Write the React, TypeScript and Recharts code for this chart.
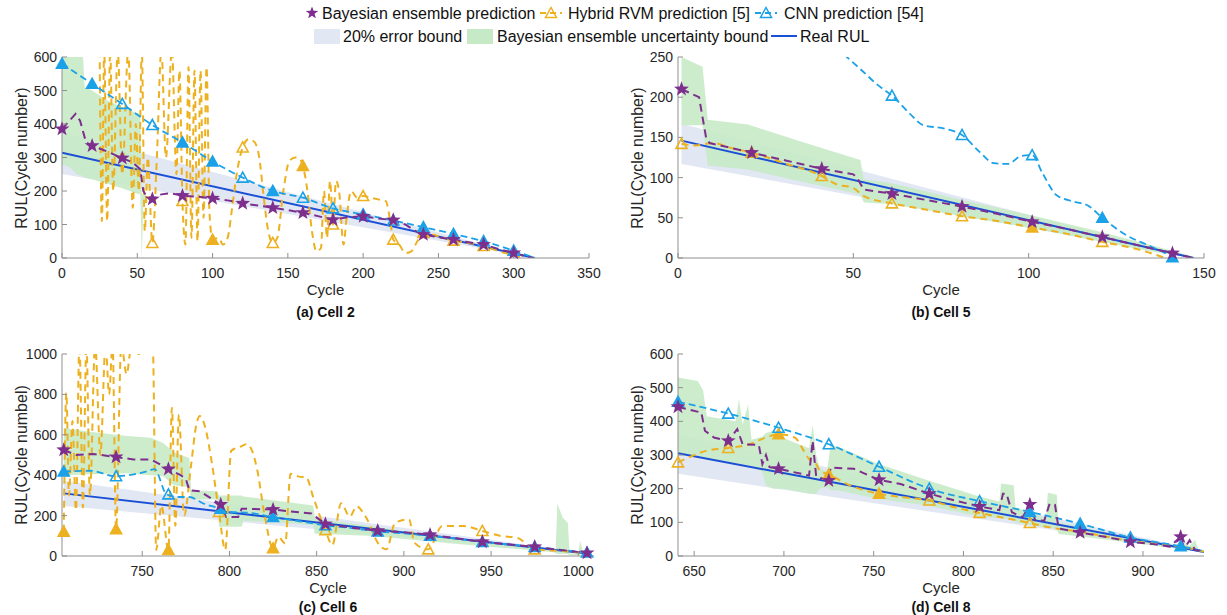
import React from 'react';
import { ComposedChart, Line, Area, XAxis, YAxis } from 'recharts';

type Pt = [number, number];
type Band = [number, number, number];
type Mk = [number, number, number];

const PURPLE = '#7e2f8e';
const YELLOW = '#edb120';
const CYAN = '#1ba1e8';
const BLUE = '#1a4fd6';
const ERR = '#e1e7f3';
const UNC = '#c6eac6';
const AXIS = '#8f8f8f';
const TXT = '#262626';
const FONT = 'Arial, "Liberation Sans", Helvetica, sans-serif';

// (a) Cell 2
const aReal: Pt[] = [[0, 314], [314, 0]];
const aErr: Band[] = [[0, 251, 377], [314, 0, 0]];
const aUnc: Band[] = [[0, 280, 600], [5, 272, 600], [10, 250, 600], [14, 245, 600], [15, 240, 510], [20, 235, 500], [30, 222, 470], [40, 208, 450], [50, 192, 432], [52, 190, 430], [53, 0, 190], [54, 160, 190], [56, 168, 185]];
const aBay: Pt[] = [[0, 385], [4, 405], [9, 430], [12, 410], [16, 345], [20, 335], [30, 318], [40, 298], [47, 285], [52, 265], [54, 200], [57, 178], [60, 176], [66, 190], [72, 193], [80, 186], [90, 183], [100, 178], [110, 172], [120, 163], [130, 157], [140, 150], [150, 143], [160, 135], [170, 125], [180, 114], [190, 122], [200, 124], [210, 118], [220, 113], [228, 100], [235, 80], [240, 70], [250, 62], [260, 55], [270, 47], [280, 40], [290, 27], [300, 15], [312, 0]];
const aBayMk: Pt[] = [[0, 385], [20, 335], [40, 298], [60, 176], [80, 186], [100, 178], [120, 163], [140, 150], [160, 135], [180, 114], [200, 124], [220, 113], [240, 70], [260, 55], [280, 40], [300, 15]];
const aHyb: Pt[] = [[25, 620], [26.5, 110], [28, 620], [30, 110], [32, 620], [34, 200], [37, 620], [40, 250], [44, 620], [47, 150], [49, 400], [51, 200], [53, 620], [55, 80], [57, 300], [60, 45], [63, 300], [66, 620], [69, 300], [73, 620], [76, 250], [78, 560], [80, 170], [82, 40], [84, 570], [86, 60], [88, 560], [90, 50], [92, 560], [94, 120], [96, 570], [98, 130], [100, 55], [104, 60], [107, 40], [110, 60], [113, 150], [116, 250], [120, 330], [124, 355], [128, 345], [131, 300], [134, 180], [137, 80], [140, 45], [143, 60], [147, 200], [151, 290], [155, 300], [158, 295], [160, 275], [163, 200], [166, 80], [169, 20], [172, 30], [174, 200], [176, 60], [178, 230], [180, 100], [182, 230], [184, 200], [187, 40], [189, 120], [192, 200], [196, 180], [200, 185], [205, 180], [210, 175], [215, 170], [218, 110], [220, 55], [224, 40], [228, 15], [232, 20], [236, 50], [240, 75], [250, 65], [260, 52], [270, 45], [280, 36], [290, 20], [300, 8], [306, 0]];
const aHybMk: Mk[] = [[60, 45, 0], [80, 170, 0], [100, 55, 1], [120, 330, 0], [140, 45, 0], [160, 275, 1], [180, 100, 0], [200, 185, 0], [220, 55, 0], [240, 75, 1], [260, 52, 0], [280, 36, 0]];
const aCnn: Pt[] = [[0, 580], [20, 520], [40, 460], [60, 397], [80, 345], [100, 288], [120, 240], [140, 200], [160, 180], [180, 148], [200, 130], [220, 112], [240, 92], [260, 72], [280, 50], [300, 22], [314, 0]];
const aCnnMk: Mk[] = [[0, 580, 1], [20, 520, 1], [40, 460, 0], [60, 397, 0], [80, 345, 1], [100, 288, 1], [120, 240, 0], [140, 200, 1], [160, 180, 0], [180, 148, 0], [200, 130, 1], [220, 112, 0], [240, 92, 1], [260, 72, 1], [280, 50, 1], [300, 22, 1]];

// (b) Cell 5
const bReal: Pt[] = [[1, 146], [147, 0]];
const bErr: Band[] = [[1, 117, 167], [147, 0, 0]];
const bUnc: Band[] = [[1, 165, 250], [7, 165, 238], [8.5, 115, 172], [20, 110, 166], [35, 95, 145], [52, 79, 122], [53, 69, 98], [61, 67, 93], [81, 52, 72], [101, 37, 53], [121, 20, 32], [135, 8, 16], [147, 0, 2]];
const bBay: Pt[] = [[1, 210], [6, 200], [8, 150], [9, 143], [21, 131], [31, 121], [41, 111], [50, 104], [51, 100], [53, 85], [61, 80], [71, 72], [81, 64], [91, 55], [101, 45], [111, 36], [121, 26], [131, 16], [141, 6], [147, 0]];
const bBayMk: Pt[] = [[1, 210], [21, 131], [41, 111], [61, 80], [81, 64], [101, 45], [121, 26], [141, 6]];
const bHyb: Pt[] = [[1, 142], [5, 140], [10, 143], [15, 137], [21, 131], [31, 117], [41, 102], [45, 92], [50, 87], [53, 77], [61, 68], [71, 60], [81, 52], [91, 46], [101, 38], [111, 30], [121, 20], [131, 11], [139, 0]];
const bHybMk: Mk[] = [[1, 142, 0], [21, 131, 0], [41, 102, 0], [61, 68, 0], [81, 52, 0], [101, 38, 1], [121, 20, 0]];
const bCnn: Pt[] = [[45, 262], [52, 235], [57, 215], [61, 202], [66, 180], [70, 165], [76, 161], [81, 153], [86, 132], [90, 118], [94, 117], [98, 127], [101, 128], [104, 105], [108, 78], [113, 70], [117, 65], [121, 50], [128, 28], [134, 16], [138, 8], [141, 1]];
const bCnnMk: Mk[] = [[61, 202, 0], [81, 153, 0], [101, 128, 0], [121, 50, 1], [141, 1, 1]];

// (c) Cell 6
const cReal: Pt[] = [[705, 310], [1005, 12]];
const cErr: Band[] = [[705, 248, 372], [1005, 10, 14]];
const cUnc: Band[] = [[705, 400, 635], [720, 405, 615], [740, 410, 595], [755, 400, 585], [762, 395, 560], [768, 350, 515], [777, 340, 485], [778, 280, 325], [793, 280, 320], [794, 145, 300], [807, 145, 300], [808, 175, 295], [848, 155, 250], [849, 110, 185], [880, 100, 150], [920, 68, 95], [950, 45, 70], [985, 20, 35], [987, 15, 30], [988, 10, 260], [991, 10, 190], [994, 10, 165], [995, 5, 12], [1000, 5, 12], [1001, 5, 75], [1003, 5, 12], [1006, 5, 10]];
const cBay: Pt[] = [[705, 525], [712, 500], [722, 505], [735, 490], [745, 478], [755, 478], [765, 430], [772, 400], [775, 382], [777, 325], [783, 320], [795, 255], [798, 193], [805, 193], [807, 234], [825, 230], [847, 210], [855, 158], [870, 140], [885, 125], [900, 117], [915, 105], [930, 88], [945, 70], [960, 58], [975, 45], [990, 30], [1005, 15]];
const cBayMk: Pt[] = [[705, 525], [735, 490], [765, 430], [795, 255], [825, 230], [855, 158], [885, 125], [915, 105], [945, 70], [975, 45], [1005, 15]];
const cHyb: Pt[] = [[705, 120], [706.5, 808], [708, 300], [710, 668], [712, 226], [714, 1050], [716, 240], [718, 1050], [720, 300], [723, 1050], [726, 500], [729, 1050], [731, 800], [733, 1050], [735, 133], [738, 1050], [741, 900], [744, 1050], [748, 1000], [752, 1050], [756, 1050], [758, 30], [761, 250], [765, 30], [767, 734], [769, 150], [771, 700], [774, 200], [778, 450], [781, 650], [783, 693], [786, 640], [790, 456], [794, 218], [797.6, 30], [801, 521], [806, 540], [810, 554], [813, 520], [816, 423], [820, 210], [825, 38], [828, 95], [832, 62], [835, 407], [840, 393], [844, 390], [848, 292], [855, 128], [859, 54], [864, 261], [869, 195], [873, 246], [876, 222], [879, 181], [885, 66], [890, 33], [895, 165], [903, 181], [906, 66], [914, 33], [922, 148], [934, 148], [945, 124], [955, 100], [965, 90], [975, 33], [990, 25], [1005, 15]];
const cHybMk: Mk[] = [[705, 120, 1], [735, 133, 1], [765, 30, 1], [794, 218, 0], [825, 38, 1], [855, 128, 0], [914, 33, 0], [945, 124, 0], [975, 33, 0]];
const cCnn: Pt[] = [[705, 418], [720, 422], [735, 395], [753, 420], [757, 430], [764, 305], [770, 292], [777, 292], [785, 260], [795, 234], [800, 218], [810, 215], [825, 193], [840, 172], [855, 152], [870, 138], [885, 122], [900, 112], [915, 100], [930, 86], [945, 70], [960, 57], [975, 45], [990, 30], [1005, 17]];
const cCnnMk: Mk[] = [[705, 418, 1], [735, 395, 0], [765, 305, 0], [795, 234, 1], [825, 193, 1], [855, 152, 0], [885, 122, 1], [915, 100, 1], [945, 70, 1], [975, 45, 1], [1005, 17, 1]];

// (d) Cell 8
const dReal: Pt[] = [[641, 305], [934, 12]];
const dErr: Band[] = [[641, 244, 362], [934, 10, 14]];
const dUnc: Band[] = [[641, 300, 530], [652, 295, 520], [655, 290, 492], [657, 285, 415], [673, 275, 400], [675, 275, 465], [677, 270, 390], [680, 270, 450], [682, 265, 345], [688, 250, 355], [690, 210, 365], [694, 200, 372], [700, 200, 350], [714, 185, 320], [716, 185, 390], [718, 185, 300], [720, 200, 260], [724, 205, 250], [726, 195, 330], [730, 195, 325], [752, 170, 275], [780, 150, 225], [808, 118, 178], [820, 112, 162], [821, 112, 215], [828, 108, 210], [829, 100, 145], [846, 85, 112], [847, 85, 188], [852, 82, 182], [853, 65, 100], [880, 48, 70], [900, 35, 50], [918, 22, 32], [922, 20, 42], [926, 20, 30], [929, 18, 48], [931, 15, 20], [934, 12, 16]];
const dBay: Pt[] = [[641, 443], [654, 426], [656, 372], [661, 352], [669, 342], [674, 377], [677, 332], [686, 330], [688, 273], [690, 300], [692, 264], [697, 259], [714, 239], [716, 342], [718, 235], [725, 224], [726, 263], [739, 259], [753, 226], [765, 214], [781, 185], [795, 165], [809, 147], [820, 136], [822, 185], [824, 185], [827, 130], [833, 115], [837, 153], [840, 106], [845, 105], [848, 155], [851, 152], [853, 82], [865, 70], [880, 56], [893, 42], [905, 36], [915, 28], [921, 57], [923, 22], [926, 47], [929, 18], [934, 13]];
const dBayMk: Pt[] = [[641, 443], [669, 342], [697, 259], [725, 224], [753, 226], [781, 185], [809, 147], [837, 153], [865, 70], [893, 42], [921, 57]];
const dHyb: Pt[] = [[641, 278], [648, 295], [657, 313], [669, 321], [681, 332], [690, 352], [697, 362], [706, 352], [711, 313], [714, 288], [718, 273], [720, 254], [725, 242], [739, 205], [753, 185], [765, 175], [781, 165], [795, 145], [809, 128], [820, 116], [837, 98], [847, 86], [865, 72], [893, 45], [921, 28], [934, 13]];
const dHybMk: Mk[] = [[641, 278, 0], [669, 321, 0], [697, 362, 1], [725, 242, 1], [753, 185, 1], [781, 165, 0], [809, 128, 0], [837, 98, 0]];
const dCnn: Pt[] = [[641, 458], [669, 423], [697, 381], [725, 332], [753, 265], [781, 200], [809, 163], [837, 131], [865, 96], [893, 55], [921, 29], [934, 14]];
const dCnnMk: Mk[] = [[641, 458, 1], [669, 423, 0], [697, 381, 0], [725, 332, 0], [753, 265, 0], [781, 200, 0], [809, 163, 0], [837, 131, 1], [865, 96, 1], [893, 55, 1], [921, 29, 1]];

const aXTicks = [0, 50, 100, 150, 200, 250, 300, 350];
const aYTicks = [0, 100, 200, 300, 400, 500, 600];
const bXTicks = [0, 50, 100, 150];
const bYTicks = [0, 50, 100, 150, 200, 250];
const cXTicks = [750, 800, 850, 900, 950, 1000];
const cYTicks = [0, 200, 400, 600, 800, 1000];
const dXTicks = [650, 700, 750, 800, 850, 900];
const dYTicks = [0, 100, 200, 300, 400, 500, 600];

interface Series {
  real: Pt[]; err: Band[]; unc: Band[];
  bay: Pt[]; bayMk: Pt[]; hyb: Pt[]; hybMk: Mk[]; cnn: Pt[]; cnnMk: Mk[];
}

function buildRows(s: Series) {
  const map = new Map<number, any>();
  const get = (x: number) => {
    let r = map.get(x);
    if (!r) { r = { x }; map.set(x, r); }
    return r;
  };
  s.real.forEach(([x, y]) => (get(x).real = y));
  s.err.forEach(([x, lo, hi]) => (get(x).err = [lo, hi]));
  s.unc.forEach(([x, lo, hi]) => (get(x).unc = [lo, hi]));
  s.bay.forEach(([x, y]) => (get(x).bay = y));
  s.hyb.forEach(([x, y]) => (get(x).hyb = y));
  s.cnn.forEach(([x, y]) => (get(x).cnn = y));
  s.bayMk.forEach(([x, y]) => (get(x).bayM = y));
  s.hybMk.forEach(([x, y, f]) => { const r = get(x); r.hybM = y; r.hybF = f; });
  s.cnnMk.forEach(([x, y, f]) => { const r = get(x); r.cnnM = y; r.cnnF = f; });
  return [...map.values()].sort((p, q) => p.x - q.x);
}

function starPath(cx: number, cy: number, R = 7.8, r = 3.2) {
  let d = '';
  for (let i = 0; i < 10; i++) {
    const ang = -Math.PI / 2 + (i * Math.PI) / 5;
    const rad = i % 2 === 0 ? R : r;
    d += (i === 0 ? 'M' : 'L') + (cx + rad * Math.cos(ang)).toFixed(2) + ',' + (cy + rad * Math.sin(ang)).toFixed(2);
  }
  return d + 'Z';
}

const triPath = (cx: number, cy: number) => `M${cx},${cy - 5.5}L${cx + 5.5},${cy + 4.5}L${cx - 5.5},${cy + 4.5}Z`;

const starDot = (p: any) => {
  if (p.cy == null || p.cx == null) return <g key={'s' + p.index} />;
  return <path key={'s' + p.index} d={starPath(p.cx, p.cy)} fill={PURPLE} />;
};

const triDot = (color: string, flag: string) => (p: any) => {
  if (p.cy == null || p.cx == null) return <g key={'t' + p.index} />;
  const filled = p.payload && p.payload[flag] === 1;
  return (
    <path key={'t' + p.index} d={triPath(p.cx, p.cy)} fill={filled ? color : 'none'} stroke={color} strokeWidth={1.6} />
  );
};

const XTick = (p: any) => (
  <g>
    <line x1={p.x} x2={p.x} y1={p.y} y2={p.y - 5} stroke={AXIS} />
    <text x={p.x} y={p.y + 20} textAnchor="middle" fontSize={14} fill={TXT} fontFamily={FONT}>
      {p.payload.value}
    </text>
  </g>
);

const YTick = (p: any) => (
  <g>
    <line x1={p.x} x2={p.x + 5} y1={p.y} y2={p.y} stroke={AXIS} />
    <text x={p.x - 5} y={p.y + 5} textAnchor="end" fontSize={14} fill={TXT} fontFamily={FONT}>
      {p.payload.value}
    </text>
  </g>
);

interface PanelProps {
  series: Series;
  plot: [number, number, number, number];
  xDomain: [number, number];
  xTicks: number[];
  yDomain: [number, number];
  yTicks: number[];
  yLabel: string;
  title: string;
  labelX: number;
  titleGap: number;
}

function Panel({ series, plot, xDomain, xTicks, yDomain, yTicks, yLabel, title, labelX, titleGap }: PanelProps) {
  const rows = buildRows(series);
  const [x0, x1, y0, y1] = plot;
  const W = x1 - x0 + 75;
  const H = y1 - y0 + 40;
  const mid = (x0 + x1) / 2;
  const margin = { top: 10, right: 25, left: 0, bottom: 0 };
  const box: React.CSSProperties = { position: 'absolute', left: x0 - 50, top: y0 - 10 };
  return (
    <>
      <div style={box}>
        <ComposedChart width={W} height={H} data={rows} margin={margin}>
          <XAxis dataKey="x" type="number" domain={xDomain} ticks={xTicks} interval={0} allowDataOverflow height={30}
            stroke={AXIS} tickLine={false} tickSize={0} tickMargin={0} tick={<XTick />} />
          <YAxis type="number" domain={yDomain} ticks={yTicks} interval={0} allowDataOverflow width={50}
            stroke={AXIS} tickLine={false} tickSize={0} tickMargin={0} tick={<YTick />} />
          <Area type="linear" dataKey="err" stroke="none" fill={ERR} fillOpacity={1} connectNulls isAnimationActive={false} />
          <Area type="linear" dataKey="unc" stroke="none" fill={UNC} fillOpacity={0.9} connectNulls isAnimationActive={false} />
          <Line type="linear" dataKey="real" stroke={BLUE} strokeWidth={2} dot={false} connectNulls isAnimationActive={false} />
          <Line type="monotone" dataKey="hyb" stroke={YELLOW} strokeWidth={2} strokeDasharray="7 5" dot={false} connectNulls isAnimationActive={false} />
          <Line type="monotone" dataKey="cnn" stroke={CYAN} strokeWidth={1.8} strokeDasharray="7 4" dot={false} connectNulls isAnimationActive={false} />
          <Line type="linear" dataKey="bay" stroke={PURPLE} strokeWidth={2} strokeDasharray="8 5" dot={false} connectNulls isAnimationActive={false} />
        </ComposedChart>
      </div>
      <div style={box}>
        <ComposedChart width={W} height={H} data={rows} margin={margin}>
          <XAxis dataKey="x" type="number" domain={xDomain} height={30} tick={false} axisLine={false} tickLine={false} />
          <YAxis type="number" domain={yDomain} width={50} tick={false} axisLine={false} tickLine={false} />
          <Line dataKey="hybM" stroke="none" dot={triDot(YELLOW, 'hybF')} isAnimationActive={false} />
          <Line dataKey="cnnM" stroke="none" dot={triDot(CYAN, 'cnnF')} isAnimationActive={false} />
          <Line dataKey="bayM" stroke="none" dot={starDot} isAnimationActive={false} />
        </ComposedChart>
      </div>
      <div style={{ position: 'absolute', left: mid - 100, width: 200, top: y1 + 24, textAlign: 'center', fontSize: 15, lineHeight: '16px', color: TXT }}>
        Cycle
      </div>
      <div style={{ position: 'absolute', left: mid - 100, width: 200, top: y1 + titleGap, textAlign: 'center', fontSize: 14, fontWeight: 'bold', lineHeight: '16px', color: '#111' }}>
        {title}
      </div>
      <div style={{ position: 'absolute', left: labelX - 100, top: (y0 + y1) / 2 - 9, width: 200, textAlign: 'center', fontSize: 16, lineHeight: '18px', color: TXT, transform: 'rotate(-90deg)' }}>
        {yLabel}
      </div>
    </>
  );
}

function Legend() {
  const t = { fontSize: 16, fill: '#111', fontFamily: FONT };
  return (
    <svg width={1227} height={50} style={{ position: 'absolute', left: 0, top: 0 }}>
      <path d={starPath(312, 13, 6.5, 2.7)} fill={PURPLE} />
      <text x={322} y={19} {...t}>Bayesian ensemble prediction</text>
      <line x1={540} x2={562} y1={13} y2={13} stroke={YELLOW} strokeWidth={2} strokeDasharray="6 4" />
      <path d={triPath(551, 13)} fill="none" stroke={YELLOW} strokeWidth={1.5} />
      <text x={568} y={19} {...t}>Hybrid RVM prediction [5]</text>
      <line x1={755} x2={777} y1={13} y2={13} stroke={CYAN} strokeWidth={2} strokeDasharray="6 4" />
      <path d={triPath(766, 13)} fill="none" stroke={CYAN} strokeWidth={1.5} />
      <text x={784} y={19} {...t}>CNN prediction [54]</text>
      <rect x={314} y={29} width={26} height={15} fill={ERR} />
      <text x={343} y={42} {...t}>20% error bound</text>
      <rect x={467} y={29} width={26} height={15} fill={UNC} />
      <text x={497} y={42} {...t}>Bayesian ensemble uncertainty bound</text>
      <line x1={771} x2={797} y1={36} y2={36} stroke={BLUE} strokeWidth={2} />
      <text x={800} y={42} {...t}>Real RUL</text>
    </svg>
  );
}

export default function App() {
  return (
    <div style={{ position: 'absolute', left: 0, top: 0, width: 1227, height: 615, background: '#fff', fontFamily: FONT, overflow: 'hidden' }}>
      <Legend />
      <Panel
        series={{ real: aReal, err: aErr, unc: aUnc, bay: aBay, bayMk: aBayMk, hyb: aHyb, hybMk: aHybMk, cnn: aCnn, cnnMk: aCnnMk }}
        plot={[62, 589, 57, 258]} xDomain={[0, 350]} xTicks={aXTicks} yDomain={[0, 600]} yTicks={aYTicks}
        yLabel="RUL(Cycle number)" title="(a) Cell 2" labelX={22} titleGap={46}
      />
      <Panel
        series={{ real: bReal, err: bErr, unc: bUnc, bay: bBay, bayMk: bBayMk, hyb: bHyb, hybMk: bHybMk, cnn: bCnn, cnnMk: bCnnMk }}
        plot={[678, 1204, 57, 258]} xDomain={[0, 150]} xTicks={bXTicks} yDomain={[0, 250]} yTicks={bYTicks}
        yLabel="RUL(Cycle number)" title="(b) Cell 5" labelX={638} titleGap={46}
      />
      <Panel
        series={{ real: cReal, err: cErr, unc: cUnc, bay: cBay, bayMk: cBayMk, hyb: cHyb, hybMk: cHybMk, cnn: cCnn, cnnMk: cCnnMk }}
        plot={[62, 594, 354, 556]} xDomain={[704, 1009]} xTicks={cXTicks} yDomain={[0, 1000]} yTicks={cYTicks}
        yLabel="RUL(Cycle numbel)" title="(c) Cell 6" labelX={22} titleGap={43}
      />
      <Panel
        series={{ real: dReal, err: dErr, unc: dUnc, bay: dBay, bayMk: dBayMk, hyb: dHyb, hybMk: dHybMk, cnn: dCnn, cnnMk: dCnnMk }}
        plot={[678, 1204, 354, 556]} xDomain={[641, 934]} xTicks={dXTicks} yDomain={[0, 600]} yTicks={dYTicks}
        yLabel="RUL(Cycle numbel)" title="(d) Cell 8" labelX={638} titleGap={43}
      />
    </div>
  );
}
